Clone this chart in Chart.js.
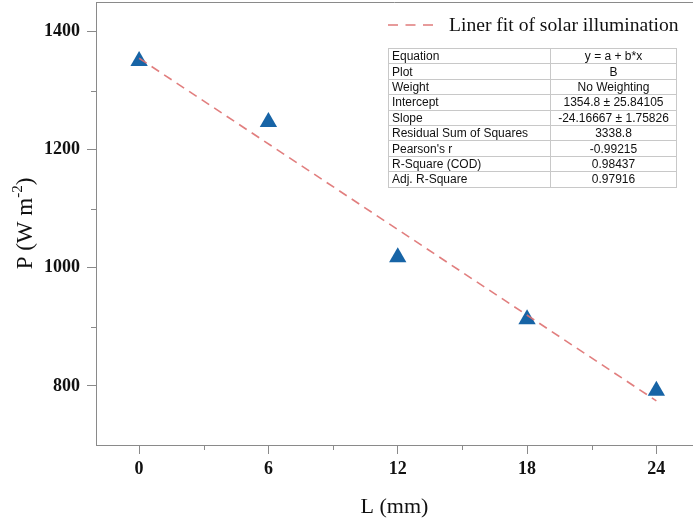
<!DOCTYPE html>
<html>
<head>
<meta charset="utf-8">
<script src="https://cdn.jsdelivr.net/npm/chart.js@4.4.0/dist/chart.umd.min.js"></script>
<style>
html, body { margin: 0; padding: 0; background: #fff; overflow: hidden; }
#wrap { position: relative; width: 693px; height: 524px; }
#powerChart { position: absolute; left: 0; top: 0; }
#legend {
    position: absolute; left: 388px; top: 12px; height: 26px;
    display: flex; align-items: center;
    font-family: "Liberation Serif", "Times New Roman", serif; font-size: 19.6px; color: #111;
}
#legend svg { margin-right: 16px; }
#fitTable {
    position: absolute; left: 388px; top: 48px; width: 289px;
    border-collapse: collapse; border: 1px solid #9a9a9a;
    font-family: "Liberation Sans", Arial, sans-serif; font-size: 12px; color: #111;
}
#fitTable td {
    border: 1px solid #c8c8c8; height: 14.4px; padding: 0 3px; line-height: 14px; white-space: nowrap;
}
#fitTable td:first-child { width: 155px; text-align: left; }
#fitTable td:last-child { text-align: center; }
</style>
</head>
<body>
<div id="wrap">
    <canvas id="powerChart" width="693" height="524"></canvas>
    <div id="legend">
        <svg width="45" height="4"><line x1="0" y1="2" x2="45" y2="2" stroke="#e07b7b" stroke-width="1.6" stroke-dasharray="10,7.5"/></svg>
        <span>Liner fit of solar illumination</span>
    </div>
    <table id="fitTable"></table>
</div>
<script>
// Measured data
const lengthMm = [0, 6, 12, 18, 24];
const powerValues = [1350, 1247, 1018, 913, 792];

// Linear fit end points (from the fit table)
const fitX = [0, 24];
const fitY = [1354.8, 774.8];

// Tick positions
const xTickValues = [0, 3, 6, 9, 12, 15, 18, 21, 24];
const yTickValues = [800, 900, 1000, 1100, 1200, 1300, 1400];

// Fit report table
const statNames = ['Equation', 'Plot', 'Weight', 'Intercept', 'Slope', 'Residual Sum of Squares', "Pearson's r", 'R-Square (COD)', 'Adj. R-Square'];
const statValues = ['y = a + b*x', 'B', 'No Weighting', '1354.8 \u00b1 25.84105', '-24.16667 \u00b1 1.75826', '3338.8', '-0.99215', '0.98437', '0.97916'];

const serif = '"Liberation Serif", "Times New Roman", serif';
const axisColor = '#8a8a8a';

// build the table
const table = document.getElementById('fitTable');
statNames.forEach(function(name, i) {
    const row = table.insertRow();
    row.insertCell().textContent = name;
    row.insertCell().textContent = statValues[i];
});

// minor ticks, top frame line and y title with superscript
const framePlugin = {
    id: 'frame',
    afterDraw(chart) {
        const ctx = chart.ctx;
        const area = chart.chartArea;
        const xs = chart.scales.x;
        const ys = chart.scales.y;
        ctx.save();
        ctx.strokeStyle = axisColor;
        ctx.lineWidth = 1;
        ctx.beginPath();
        ctx.moveTo(area.left, area.top + 0.5);
        ctx.lineTo(area.right, area.top + 0.5);
        xTickValues.forEach(function(v) {
            if (v % 6 !== 0) {
                const px = Math.round(xs.getPixelForValue(v)) + 0.5;
                ctx.moveTo(px, area.bottom);
                ctx.lineTo(px, area.bottom + 5);
            }
        });
        yTickValues.forEach(function(v) {
            if (v % 200 !== 0) {
                const py = Math.round(ys.getPixelForValue(v)) + 0.5;
                ctx.moveTo(area.left, py);
                ctx.lineTo(area.left - 5, py);
            }
        });
        ctx.stroke();

        // y axis title: P (W m^-2)
        ctx.translate(26, (area.top + area.bottom) / 2);
        ctx.rotate(-Math.PI / 2);
        ctx.fillStyle = '#111';
        ctx.textBaseline = 'middle';
        const big = '23px ' + serif;
        const small = '15px ' + serif;
        ctx.font = big;
        const w1 = ctx.measureText('P (W m').width;
        const w3 = ctx.measureText(')').width;
        ctx.font = small;
        const w2 = ctx.measureText('-2').width;
        let x0 = -(w1 + w2 + w3) / 2;
        ctx.font = big;
        ctx.fillText('P (W m', x0, 0);
        ctx.font = small;
        ctx.fillText('-2', x0 + w1, -8);
        ctx.font = big;
        ctx.fillText(')', x0 + w1 + w2, 0);
        ctx.restore();
    }
};

function createChart() {
    const ctx = document.getElementById('powerChart').getContext('2d');
    new Chart(ctx, {
        type: 'scatter',
        data: {
            datasets: [{
                type: 'line',
                label: 'Liner fit of solar illumination',
                data: fitX.map((x, i) => ({ x: x, y: fitY[i] })),
                borderColor: 'rgba(222, 112, 112, 0.9)',
                borderWidth: 1.6,
                borderDash: [9, 6],
                pointRadius: 0,
                fill: false,
                order: 1
            }, {
                label: 'B',
                data: lengthMm.map((x, i) => ({ x: x, y: powerValues[i] })),
                pointStyle: 'triangle',
                pointRadius: 10,
                pointHoverRadius: 10,
                backgroundColor: '#1764a6',
                borderWidth: 0,
                order: 2
            }]
        },
        options: {
            responsive: false,
            animation: false,
            devicePixelRatio: 1,
            layout: { autoPadding: false, padding: { top: 2, right: 0, left: 0, bottom: 0 } },
            plugins: {
                legend: { display: false },
                tooltip: { enabled: false }
            },
            scales: {
                x: {
                    type: 'linear',
                    min: -2,
                    max: 25.7,
                    afterBuildTicks: function(scale) {
                        scale.ticks = xTickValues.map(v => ({ value: v }));
                    },
                    afterFit: function(scale) {
                        scale.height = 79;
                        scale.paddingLeft = 0;
                        scale.paddingRight = 0;
                    },
                    ticks: {
                        autoSkip: false,
                        maxRotation: 0,
                        padding: 5,
                        color: '#111',
                        font: { family: serif, size: 18, weight: 'bold' },
                        callback: v => (v % 6 === 0 ? v : '')
                    },
                    grid: {
                        drawOnChartArea: false,
                        tickLength: 9,
                        tickColor: c => (c.tick && c.tick.value % 6 === 0 ? axisColor : 'rgba(0,0,0,0)')
                    },
                    border: { color: axisColor, width: 1 },
                    title: {
                        display: true,
                        text: 'L (mm)',
                        color: '#111',
                        font: { family: serif, size: 22 },
                        padding: { top: 6 }
                    }
                },
                y: {
                    min: 700,
                    max: 1450,
                    afterBuildTicks: function(scale) {
                        scale.ticks = yTickValues.map(v => ({ value: v }));
                    },
                    afterFit: function(scale) {
                        scale.width = 96;
                        scale.paddingTop = 0;
                        scale.paddingBottom = 0;
                    },
                    ticks: {
                        autoSkip: false,
                        padding: 7,
                        color: '#111',
                        font: { family: serif, size: 18, weight: 'bold' },
                        callback: v => (v % 200 === 0 ? v : '')
                    },
                    grid: {
                        drawOnChartArea: false,
                        tickLength: 9,
                        tickColor: c => (c.tick && c.tick.value % 200 === 0 ? axisColor : 'rgba(0,0,0,0)')
                    },
                    border: { color: axisColor, width: 1 }
                }
            }
        },
        plugins: [framePlugin]
    });
}

document.addEventListener('DOMContentLoaded', createChart);
</script>
</body>
</html>
